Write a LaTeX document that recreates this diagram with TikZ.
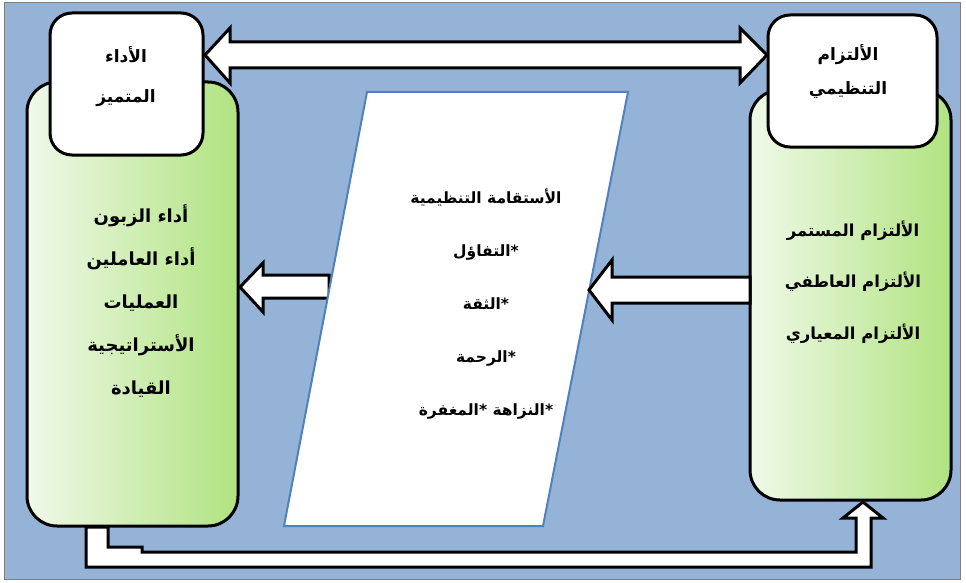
\documentclass[tikz,border=0pt]{standalone}
\usepackage{fontspec}
\usepackage[dvipsnames]{xcolor}
\usepackage{tikz}
\newfontfamily\arabicfont[Script=Arabic]{DejaVu Sans}
\TeXXeTstate=1
\newcommand{\artxt}[1]{\beginR #1\endR}
\newcommand{\bullstar}{\mbox{*}}
\definecolor{bgblue}{RGB}{149,179,215}
\definecolor{framegray}{RGB}{125,125,125}
\definecolor{paraline}{RGB}{79,129,189}
\definecolor{gleft}{RGB}{240,249,233}
\definecolor{gright}{RGB}{176,227,128}

\begin{document}
\begin{tikzpicture}[x=1pt, y=-1pt, every node/.append style={font=\arabicfont\bfseries}]
    \tikzstyle{gbox}=[draw, line width=3pt, rounded corners=30pt, left color=gleft, right color=gright, inner sep=0pt];
    \tikzstyle{wbox}=[draw, line width=3pt, rounded corners=22pt, fill=white, inner sep=0pt];
    \tikzstyle{barrow}=[draw, line width=3pt, fill=white, line join=miter];
    \tikzstyle{txt}=[align=center, inner sep=0pt];
    \useasboundingbox (0,0) rectangle (966,583);
    % background
    \draw[fill=bgblue, draw=framegray, line width=1pt] (4,3) rectangle (960,579);
    % bottom bent arrow
    \draw[barrow] (86,527) -- (86,567) -- (871,567) -- (871,518) -- (883,518) -- (863,502)
        -- (843,518) -- (856,518) -- (856,552) -- (142,552) -- (142,547) -- (108,547) -- (108,527) -- cycle;
    % left arrow, under the parallelogram
    \draw[barrow] (240,287) -- (263,263) -- (263,275) -- (329,275) -- (329,298) -- (263,298) -- (263,312) -- cycle;
    % middle
    \draw[draw=paraline, fill=white, line width=2pt] (367,92) coordinate (pa) -- (628,92) coordinate (pb)
        -- (543,526) coordinate (pc) -- (284,526) coordinate (pd) -- cycle;
    % boxes
    \node[gbox, minimum width=211pt, minimum height=444pt] (lbox) at (132.5,304) {};
    \node[gbox, minimum width=201pt, minimum height=410pt] (rbox) at (850.5,295) {};
    \node[wbox, minimum width=153pt, minimum height=142pt] (perf) at (126.5,84) {};
    \node[wbox, minimum width=169pt, minimum height=132pt] (commit) at (852.5,81) {};
    % arrows
    \draw[barrow] (589,290) -- (612,260) -- (612,277) -- (750,277) -- (750,303) -- (612,303) -- (612,320) -- cycle;
    \draw[barrow] (205,55) -- (230,28) -- (230,42) -- (740,42) -- (740,28) -- (767,55)
        -- (740,83) -- (740,68) -- (230,68) -- (230,83) -- cycle;
    % texts
    \node[txt, font=\arabicfont\bfseries\fontsize{17}{40}\selectfont] (perftxt) at (126,77)
        {\artxt{الأداء}\\ \artxt{المتميز}};
    \node[txt, font=\arabicfont\bfseries\fontsize{17}{34}\selectfont] (committxt) at (848,72)
        {\artxt{الألتزام}\\ \artxt{التنظيمي}};
    \node[txt, font=\arabicfont\bfseries\fontsize{18}{43}\selectfont] (ltxt) at (141,301)
        {\artxt{أداء الزبون}\\ \artxt{أداء العاملين}\\ \artxt{العمليات}\\ \artxt{الأستراتيجية}\\ \artxt{القيادة}};
    \node[txt, font=\arabicfont\bfseries\fontsize{16.5}{51.5}\selectfont] (rtxt) at (853,282)
        {\artxt{الألتزام المستمر}\\ \artxt{الألتزام العاطفي}\\ \artxt{الألتزام المعياري}};
    \node[txt, font=\arabicfont\bfseries\fontsize{15.5}{53}\selectfont] (ctxt) at (486,304)
        {\artxt{الأستقامة التنظيمية}\\ \artxt{\bullstar التفاؤل}\\ \artxt{\bullstar الثقة}\\
         \artxt{\bullstar الرحمة}\\ \artxt{\bullstar النزاهة \bullstar المغفرة}};
\end{tikzpicture}
\end{document}
